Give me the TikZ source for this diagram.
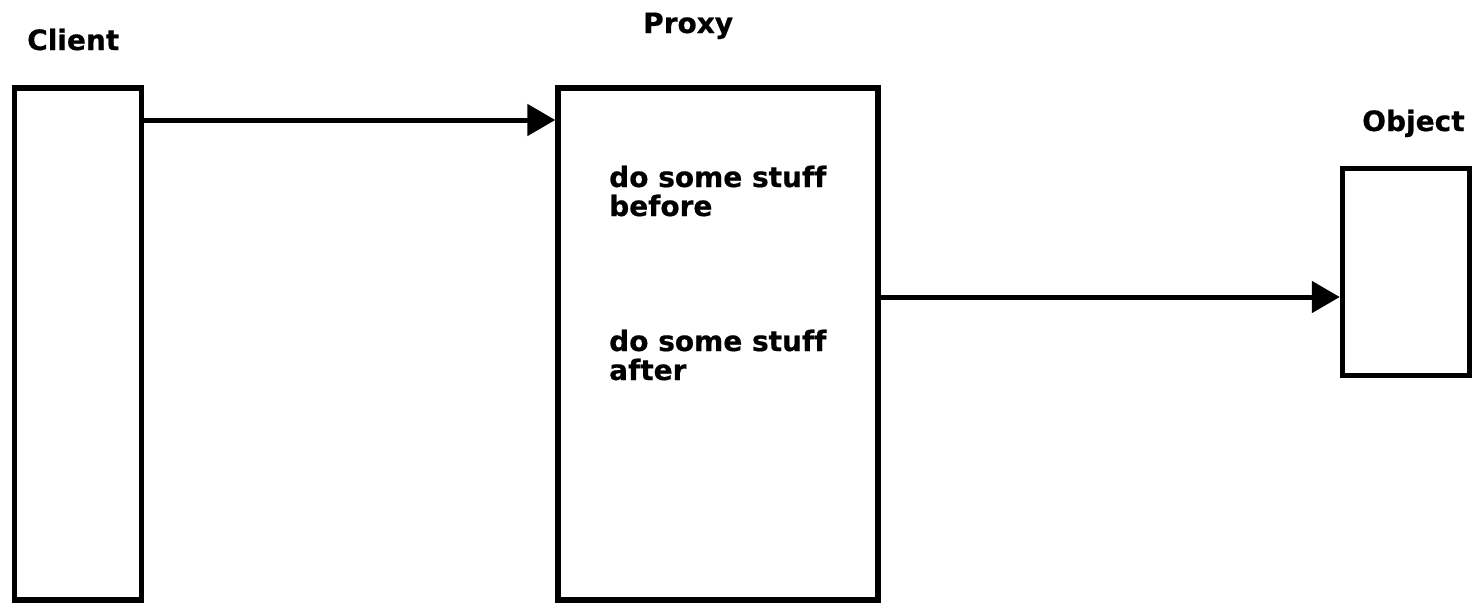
\documentclass[tikz,border=0pt]{standalone}
\usepackage{fontspec}
\setmainfont[Ligatures=NoCommon,BoldFeatures={FakeBold=0.6}]{DejaVu Sans}
\usetikzlibrary{arrows.meta,calc}
\begin{document}
\begin{tikzpicture}[x=1pt,y=-1pt,
  box/.style={draw=black,line width=5.5pt,fill=white,inner sep=0pt,outer sep=0pt,rectangle},
  conn/.style={line width=5pt,-{Triangle[length=28pt,width=31pt]}},
  lbl/.style={anchor=base west,inner sep=0pt,font=\fontsize{28}{29}\selectfont\bfseries,align=left}]
\useasboundingbox (0,0) rectangle (1479,605);
\node[box,minimum width=127pt,minimum height=512pt] (client) at (78,344) {};
\node[box,minimum width=320pt,minimum height=512pt] (proxy) at (718,344) {};
\node[box,minimum width=127pt,minimum height=207pt] (object) at (1406,272) {};
\node[lbl] (lclient) at (27,50) {Client};
\node[lbl] (lproxy) at (643,33) {Proxy};
\node[lbl] (lobject) at (1362,131) {Object};
\node[lbl] (before) at (609,216) {do some stuff\\before};
\node[lbl] (after) at (609,380) {do some stuff\\after};
\draw[conn] ($(client.north east)+(2.7,32)$) -- ($(proxy.north west)+(-2.7,32)$);
\draw[conn] ($(proxy.west)+(323,-47)$) -- ($(object.west)+(-2.7,25)$);
\end{tikzpicture}
\end{document}
